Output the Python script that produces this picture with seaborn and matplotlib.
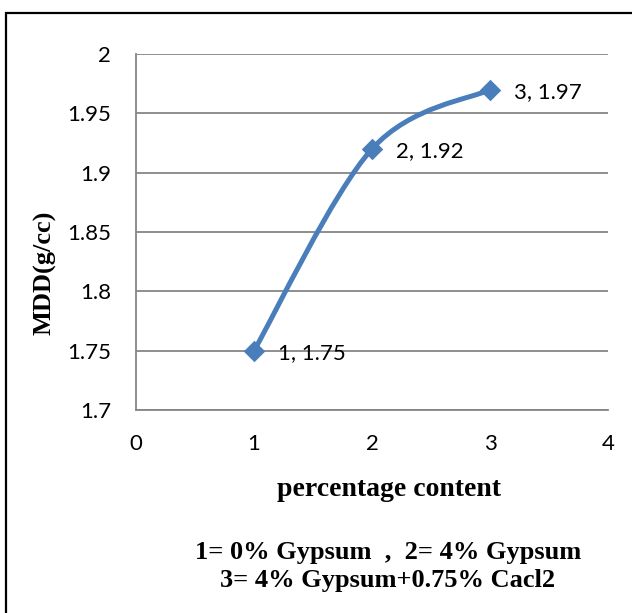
import numpy as np
import matplotlib
matplotlib.use("Agg")
import matplotlib.pyplot as plt
import seaborn as sns
import pandas as pd
from matplotlib.path import Path
from matplotlib.patches import PathPatch, Rectangle

# data
content = [1, 2, 3]
mdd = [1.75, 1.92, 1.97]
x_ticks = [0, 1, 2, 3, 4]
y_ticks = [1.7, 1.75, 1.8, 1.85, 1.9, 1.95, 2.0]
y_tick_labels = ["1.7", "1.75", "1.8", "1.85", "1.9", "1.95", "2"]
x_label = "percentage content"
y_label = "MDD(g/cc)"
caption = ["1= 0% Gypsum  ,  2= 4% Gypsum", "3= 4% Gypsum+0.75% Cacl2"]

sns.set_theme(style="white")
plt.rcParams['font.family'] = ['Lato', 'DejaVu Sans']
plt.rcParams['text.color'] = 'black'

W, H = 632, 613
fig = plt.figure(figsize=(W / 100, H / 100), dpi=100)
ax = fig.add_axes([136 / W, 1 - 410 / H, (608 - 136) / W, (410 - 54) / H])

line_color = "#4A7EBB"
grid_color = "#868686"

# smoothed line (Excel-style Bezier through data points)
df = pd.DataFrame({"content": content, "mdd": mdd})
P = np.column_stack([content, mdd]).astype(float)
n = len(P)
verts = [tuple(P[0])]
codes = [Path.MOVETO]
for i in range(n - 1):
    p_prev = P[i - 1] if i > 0 else P[i]
    p_next2 = P[i + 2] if i + 2 < n else P[i + 1]
    c1 = P[i] + (P[i + 1] - p_prev) / 6
    c2 = P[i + 1] - (p_next2 - P[i]) / 6
    verts += [tuple(c1), tuple(c2), tuple(P[i + 1])]
    codes += [Path.CURVE4] * 3
ax.add_patch(PathPatch(Path(verts, codes), facecolor="none", edgecolor=line_color,
                       lw=3.6, capstyle="round", joinstyle="round", zorder=3))

sns.scatterplot(data=df, x="content", y="mdd", ax=ax, marker="D", s=120,
                color=line_color, edgecolor=line_color, linewidth=0, zorder=4, legend=False)

for xv, yv in zip(content, mdd):
    ax.annotate(f"{xv}, {yv:g}", (xv, yv), xytext=(17, -1.5), textcoords="offset points",
                ha="left", va="center", fontsize=16, color="black", family=["Lato", "DejaVu Sans"])

ax.set_xlim(0, 4)
ax.set_ylim(1.7, 2.0)
ax.set_xticks(x_ticks)
ax.set_xticklabels([str(t) for t in x_ticks], fontsize=16)
ax.set_yticks(y_ticks)
ax.set_yticklabels(y_tick_labels, fontsize=16)
ax.yaxis.grid(True, color=grid_color, lw=1.3)
ax.xaxis.grid(False)
for s in ["top", "right"]:
    ax.spines[s].set_visible(False)
for s in ["left", "bottom"]:
    ax.spines[s].set_color(grid_color)
    ax.spines[s].set_linewidth(1.3)
ax.tick_params(axis="both", which="both", direction="out", length=6, width=1.3,
               color=grid_color, labelcolor="black")
ax.tick_params(axis="y", pad=12)
ax.tick_params(axis="x", pad=11)
ax.set_xlabel("")
ax.set_ylabel("")

fig.text(389 / W, 1 - 489 / H, x_label, ha="center", va="center", fontsize=20,
         fontweight="bold", family=["Liberation Serif"], color="black")
fig.text(45 / W, 1 - 273 / H, y_label, ha="center", va="center", rotation=90, fontsize=19,
         fontweight="bold", family=["Liberation Serif"], color="black")
fig.text(388 / W, 1 - 552 / H, caption[0], ha="center", va="center", fontsize=19,
         fontweight="bold", family=["Liberation Serif"], color="black")
fig.text(388 / W, 1 - 581 / H, caption[1], ha="center", va="center", fontsize=19,
         fontweight="bold", family=["Liberation Serif"], color="black")

fig.patches.append(Rectangle((6 / W, -0.05), 1.2, 1 - 13 / H + 0.05, transform=fig.transFigure,
                             fill=False, edgecolor="black", lw=1.6, zorder=10))

fig.savefig("out.png", dpi=100)
